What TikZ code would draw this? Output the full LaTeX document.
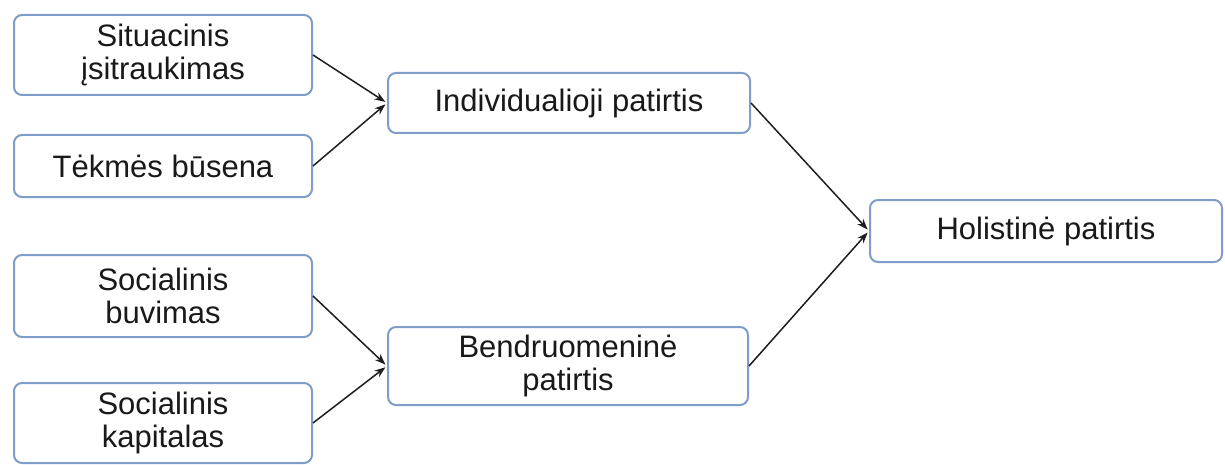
\documentclass[tikz,border=0pt]{standalone}
\usepackage{fontspec}
\setmainfont{Liberation Sans}
\usetikzlibrary{arrows.meta}
\definecolor{boxline}{RGB}{128,156,200}
\definecolor{arrowline}{RGB}{30,30,30}
\tikzset{
  box/.style={draw=boxline, line width=2pt, fill=white, rounded corners=8pt,
    inner sep=0pt, align=center, text=black!90,
    font=\fontsize{31}{33}\selectfont},
  link/.style={draw=arrowline, line width=1.5pt,
    -{Stealth[length=11pt,width=8pt]}, shorten >=2pt}
}
\begin{document}
\begin{tikzpicture}[x=1pt,y=-1pt]
  \useasboundingbox[fill=white] (0,0) rectangle (1225,465);

  % inputs
  \node[box, minimum width=298pt, minimum height=80pt] (s1) at (163,55) {Situacinis\\įsitraukimas};
  \node[box, minimum width=298pt, minimum height=62pt] (s2) at (163,166) {Tėkmės būsena};
  \node[box, minimum width=298pt, minimum height=82pt] (sb) at (163,296) {Socialinis\\buvimas};
  \node[box, minimum width=298pt, minimum height=80pt] (sk) at (163,423) {Socialinis\\kapitalas};

  % intermediate
  \node[box, minimum width=362pt, minimum height=60pt] (ind) at (569,103) {Individualioji patirtis};
  \node[box, minimum width=360pt, minimum height=78pt] (ben) at (568,366) {Bendruomeninė\\patirtis};

  % result
  \node[box, minimum width=352pt, minimum height=62pt] (hol) at (1046,231) {Holistinė patirtis};

  % connectors
  \draw[link] (s1.east) -- (ind.west);
  \draw[link] (s2.east) -- (ind.west);
  \draw[link] (sb.east) -- (ben.west);
  \draw[link] (sk.east) -- (ben.west);
  \draw[link] (ind.east) -- (hol.west);
  \draw[link] (ben.east) -- (hol.west);
\end{tikzpicture}
\end{document}
